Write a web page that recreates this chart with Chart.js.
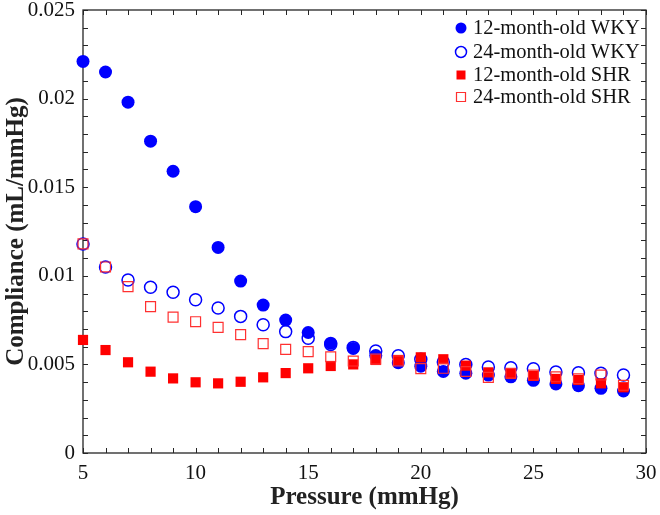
<!DOCTYPE html>
<html>
<head>
<meta charset="utf-8">
<script src="https://cdn.jsdelivr.net/npm/chart.js@4.4.1/dist/chart.umd.min.js"></script>
<style>
  html, body { margin: 0; padding: 0; background: #fff; }
  #wrap { width: 660px; height: 515px; position: relative; }
</style>
</head>
<body>
<div id="wrap"><canvas id="compChart"></canvas></div>
<script>
// --- data ---
const pressure = [5, 6, 7, 8, 9, 10, 11, 12, 13, 14, 15, 16, 17, 18, 19, 20, 21, 22, 23, 24, 25, 26, 27, 28, 29];
const wky12 = [0.0221, 0.0215, 0.0198, 0.0176, 0.0159, 0.0139, 0.0116, 0.0097, 0.00835, 0.0075, 0.0068, 0.0062, 0.0059, 0.0055, 0.0051, 0.0049, 0.0046, 0.0045, 0.0044, 0.0043, 0.0041, 0.0039, 0.0038, 0.00365, 0.0035];
const wky24 = [0.0118, 0.0105, 0.00976, 0.00935, 0.00907, 0.00865, 0.00818, 0.00771, 0.00724, 0.00685, 0.00647, 0.00613, 0.00596, 0.00576, 0.00549, 0.00529, 0.00514, 0.005, 0.00485, 0.00481, 0.00476, 0.00457, 0.00453, 0.0045, 0.0044];
const shr12 = [0.00638, 0.00581, 0.00512, 0.00459, 0.00421, 0.00399, 0.00393, 0.00402, 0.00427, 0.00451, 0.00478, 0.00491, 0.005, 0.00525, 0.00525, 0.0054, 0.00529, 0.00493, 0.00455, 0.00446, 0.00435, 0.00418, 0.00412, 0.00393, 0.00371];
const shr24 = [0.0118, 0.0105, 0.00939, 0.00826, 0.00767, 0.00741, 0.00709, 0.00668, 0.00617, 0.00585, 0.00572, 0.00543, 0.00519, 0.0053, 0.0052, 0.00476, 0.00478, 0.0046, 0.00427, 0.0045, 0.0044, 0.0043, 0.00419, 0.0044, 0.00382];
const xTicks = [5, 10, 15, 20, 25, 30];
const yTicks = [0, 0.005, 0.01, 0.015, 0.02, 0.025];
const seriesNames = ['12-month-old WKY', '24-month-old WKY', '12-month-old SHR', '24-month-old SHR'];

const FONT = "'Liberation Serif', 'Times New Roman', serif";
const AXIS_COLOR = '#262626';

function pts(ys) {
    return pressure.map((x, i) => ({ x: x, y: ys[i] }));
}

// frame box + inward ticks on all four sides (drawn under the markers)
const frameTicks = {
    id: 'frameTicks',
    beforeDatasetsDraw(chart) {
        const { ctx, chartArea: a, scales: { x, y } } = chart;
        ctx.save();
        ctx.strokeStyle = AXIS_COLOR;
        ctx.lineWidth = 1.3;
        ctx.strokeRect(a.left, a.top, a.right - a.left, a.bottom - a.top);
        ctx.lineWidth = 1;
        ctx.beginPath();
        const len = 5;
        for (let v = 5; v <= 30; v += 1) {
            const px = Math.round(x.getPixelForValue(v)) + 0.5;
            ctx.moveTo(px, a.bottom); ctx.lineTo(px, a.bottom - len);
            ctx.moveTo(px, a.top); ctx.lineTo(px, a.top + len);
        }
        for (let k = 0; k <= 25; k++) {
            const py = Math.round(y.getPixelForValue(k * 0.001)) + 0.5;
            ctx.moveTo(a.left, py); ctx.lineTo(a.left + len, py);
            ctx.moveTo(a.right, py); ctx.lineTo(a.right - len, py);
        }
        ctx.stroke();
        ctx.restore();
    }
};

// legend inside the top-right corner
const innerLegend = {
    id: 'innerLegend',
    afterDraw(chart) {
        const { ctx } = chart;
        const rows = [28, 52, 75, 97];
        const mx = 461, tx = 473;
        ctx.save();
        ctx.font = '20.5px ' + FONT;
        ctx.textBaseline = 'middle';
        chart.data.datasets.forEach((ds, i) => {
            const yy = rows[i];
            ctx.beginPath();
            if (ds.pointStyle === 'circle') {
                ctx.arc(mx, yy, 5.5, 0, Math.PI * 2);
            } else {
                ctx.rect(mx - 4.5, yy - 4.5, 9, 9);
            }
            if (ds.pointBackgroundColor !== 'rgba(0,0,0,0)') {
                ctx.fillStyle = ds.pointBackgroundColor;
                ctx.fill();
            } else {
                ctx.strokeStyle = ds.pointBorderColor;
                ctx.lineWidth = ds.pointBorderWidth;
                ctx.stroke();
            }
            ctx.fillStyle = '#111';
            ctx.fillText(ds.label, tx, yy + 1);
        });
        ctx.restore();
    }
};

const ctx = document.getElementById('compChart').getContext('2d');
const compChart = new Chart(ctx, {
    type: 'scatter',
    data: {
        datasets: [
            {
                label: seriesNames[0], data: pts(wky12), order: 4,
                pointStyle: 'circle', pointRadius: 6.5,
                pointBackgroundColor: '#0000ff', pointBorderColor: '#0000ff', pointBorderWidth: 0
            },
            {
                label: seriesNames[1], data: pts(wky24), order: 3,
                pointStyle: 'circle', pointRadius: 6,
                pointBackgroundColor: 'rgba(0,0,0,0)', pointBorderColor: '#0000ff', pointBorderWidth: 1.5
            },
            {
                label: seriesNames[2], data: pts(shr12), order: 2,
                pointStyle: 'rect', pointRadius: 7.2,
                pointBackgroundColor: '#ff0000', pointBorderColor: '#ff0000', pointBorderWidth: 0
            },
            {
                label: seriesNames[3], data: pts(shr24), order: 1,
                pointStyle: 'rect', pointRadius: 7,
                pointBackgroundColor: 'rgba(0,0,0,0)', pointBorderColor: '#ff3030', pointBorderWidth: 1.2
            }
        ].map(d => Object.assign(d, { clip: false, pointHoverRadius: d.pointRadius }))
    },
    options: {
        responsive: true,
        maintainAspectRatio: false,
        animation: false,
        layout: { padding: { top: 10, right: 14, left: 0, bottom: 0 } },
        plugins: {
            legend: { display: false },
            tooltip: { enabled: false }
        },
        scales: {
            x: {
                type: 'linear', min: 5, max: 30,
                grid: { display: false, drawTicks: false },
                border: { display: false },
                afterBuildTicks: s => { s.ticks = xTicks.map(v => ({ value: v })); },
                afterFit: s => { s.height = 62; s.paddingLeft = 0; s.paddingRight = 0; },
                ticks: {
                    color: '#111', padding: 8, maxRotation: 0,
                    font: { family: FONT, size: 21 }
                },
                title: {
                    display: true, text: 'Pressure (mmHg)', color: '#222',
                    font: { family: FONT, size: 25, weight: 'bold' },
                    padding: { top: 0, bottom: 2 }
                }
            },
            y: {
                type: 'linear', min: 0, max: 0.025,
                grid: { display: false, drawTicks: false },
                border: { display: false },
                afterBuildTicks: s => { s.ticks = yTicks.map(v => ({ value: v })); },
                afterFit: s => { s.width = 83; s.paddingTop = 0; s.paddingBottom = 0; },
                ticks: {
                    color: '#111', padding: 8,
                    font: { family: FONT, size: 21 },
                    callback: v => String(parseFloat(v.toFixed(3)))
                },
                title: {
                    display: true, text: 'Compliance (mL/mmHg)', color: '#222',
                    font: { family: FONT, size: 25, weight: 'bold' },
                    padding: { top: 2, bottom: 0 }
                }
            }
        }
    },
    plugins: [frameTicks, innerLegend]
});
</script>
</body>
</html>
